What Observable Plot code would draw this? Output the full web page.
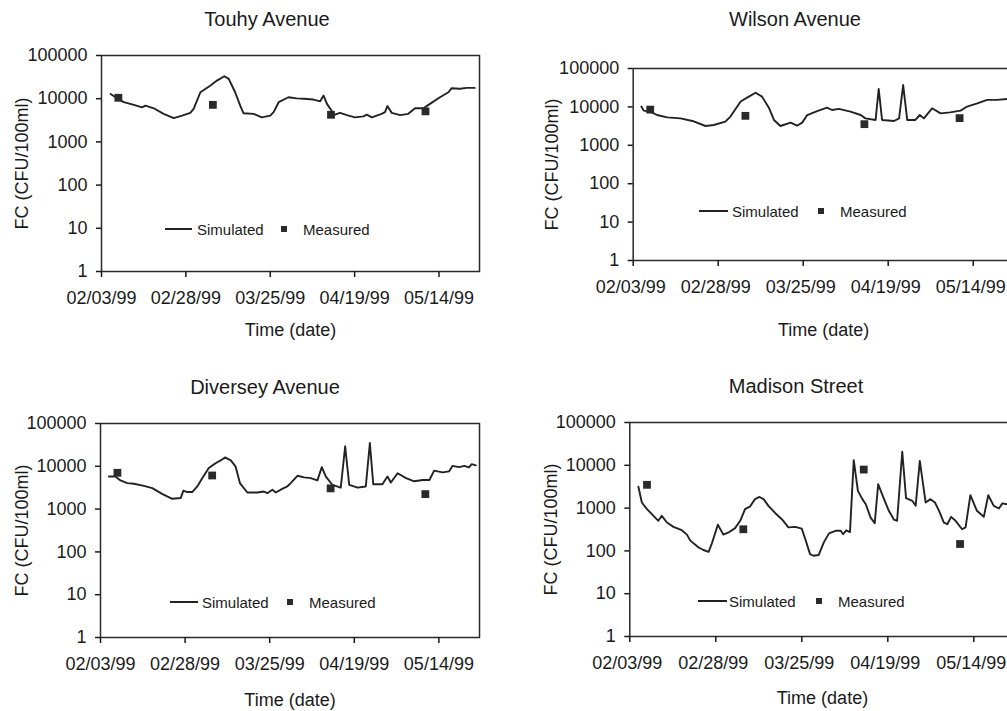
<!DOCTYPE html>
<html><head><meta charset="utf-8">
<script src="https://cdn.jsdelivr.net/npm/d3@7"></script>
<script src="https://cdn.jsdelivr.net/npm/@observablehq/plot@0.6"></script>
<style>
html,body{margin:0;padding:0;background:#fff;overflow:hidden;}
#root{position:relative;width:1007px;height:711px;overflow:hidden;font-family:"Liberation Sans",Arial,sans-serif;color:#1a1a1a;background:#fff;}
.panel{position:absolute;}
.panel svg{max-width:none !important;}
.title{position:absolute;font-size:20px;transform:translate(-50%,-50%);white-space:nowrap;line-height:1;}
.lg-line{position:absolute;height:1.5px;background:#222;}
.lg-text{position:absolute;font-size:15px;transform:translateY(-50%);white-space:nowrap;line-height:1;}
.lg-sq{position:absolute;width:6px;height:6px;background:#2a2a2a;transform:translate(-50%,-50%);}
</style></head>
<body><div id="root"></div>
<script>
// ---------- data ----------
const startDate = "1999-02-03";               // day 0 of the simulated series
const xDomain = ["1999-02-03", "1999-05-26"];
const xTickDates = ["1999-02-03", "1999-02-28", "1999-03-25", "1999-04-19", "1999-05-14"];
const yTickValues = [1, 10, 100, 1000, 10000, 100000];
const measuredDates = ["1999-02-08", "1999-03-08", "1999-04-12", "1999-05-10"];

const touhyDays = [2.7,4.6,6.6,9.6,12,13,15.5,18.4,21.4,23.9,26.3,27.3,29.3,32.2,34.2,36.4,37.7,39.6,41.1,42.1,45.1,47.5,50,51,52.5,55.4,57.9,59.9,62.8,64.8,65.8,66.8,68.2,68.7,70.7,72.7,75.1,77.6,78.6,80.1,83,84,84.7,86,88.5,90.9,92.9,95.4,97.3,100.3,102.8,103.7,106.2,108.2,110.6];
const touhySim = [12900,10200,8300,7200,6300,6900,6000,4460,3550,4070,4700,5800,14100,20000,26300,33100,28800,14100,6900,4600,4450,3700,4070,4900,8300,10800,10200,10000,9550,8700,11800,7600,5250,4170,4700,4170,3700,3900,4270,3700,4460,4900,6760,4700,4170,4460,6000,6000,7600,10800,14100,17400,17000,17800,17800];
const touhyMeasured = [10500, 7200, 4250, 5100];

const wilsonDays = [2.4,3.1,5.1,7,10,13.9,17.4,21.3,23.7,27.1,28.6,31.6,34,36,37.9,39.9,41.4,43.3,46.3,48.2,49.7,51.2,54.1,57,58.5,60.5,63.9,66.9,68.3,71.3,72.2,73.2,76.7,78.2,79.4,80.6,83,84.3,85.5,87.9,90.4,93.2,96.3,98.2,101.2,104.1,107,110];
const wilsonSim = [10200,8000,7550,6150,5350,5030,4300,3180,3380,4150,5600,13800,18500,23400,18500,9550,4570,3180,3890,3240,3890,6150,7800,9550,8300,8900,7550,6150,5030,4570,29300,4570,4300,5030,37100,4570,4570,6150,5030,9200,6800,7200,8000,10200,12300,15200,15200,16100];
const wilsonMeasured = [8500, 5850, 3550, 5100];

const diverseyDays = [2.5,4.4,5.9,7.9,9.9,12.8,15.3,18.2,21.2,23.7,24.5,25.6,27.1,28.6,30.1,32,34,35.5,36.8,38.5,39.9,41.2,43.4,46.4,48.3,49.3,50.8,51.8,53.7,55.2,56.2,58.2,60.2,62.1,64.1,65.4,66.6,68.5,71,72.3,73.5,76,78.4,79.6,80.6,83.3,84.8,85.8,87.8,90.3,92.7,95.2,97.2,98.6,101.1,103,104,106,107.5,108.9,109.7,110.9];
const diverseySim = [5760,5760,4680,4050,3900,3480,3090,2270,1740,1810,2700,2500,2500,3380,5300,9100,11800,13700,16100,13700,10000,4050,2440,2440,2580,2350,2820,2440,2970,3380,4050,6000,5500,5300,4680,9550,5760,3700,3170,29300,3700,3170,3380,35000,3800,3800,5760,4170,6900,5300,4460,4800,4800,7900,7200,7600,10200,9550,10200,9400,11200,10500];
const diverseyMeasured = [7050, 6100, 3050, 2240];

const madisonDays = [2.5,3.5,5,6.9,8.3,9.3,10.8,12.7,15.1,16.6,17.6,20,21.4,22.9,23.8,25.6,27.2,28.7,30.6,32.1,33.5,35,36.4,37.7,38.9,40.3,42.3,44.2,46.1,48.1,50,51,52.4,53.4,54.9,56.4,57.9,59.8,61.3,62,62.9,64,65.1,66.3,67.6,68.6,70,71.2,72.2,73.9,75.3,76.8,77.7,79.2,80.3,82.1,83.1,84.3,86,87.4,88.7,89.8,91.3,92.3,93.4,94.7,96.6,97.6,99,100.9,102.9,104.2,105.8,107.3,108.3,109.7];
const madisonSim = [3150,1350,950,660,505,660,460,365,305,240,174,120,105,95,145,410,240,270,340,505,950,1100,1620,1820,1620,1130,760,550,355,365,330,190,84,77,80,158,257,295,295,245,303,276,13200,2520,1620,1230,600,445,3620,1620,865,535,505,20700,1700,1480,1140,12700,1350,1620,1350,895,460,420,625,505,320,355,2000,865,625,2000,1130,980,1290,1230];
const madisonMeasured = [3500, 320, 7950, 145];

const titles = ["Touhy Avenue", "Wilson Avenue", "Diversey Avenue", "Madison Street"];
const yLabel = "FC (CFU/100ml)";
const xLabel = "Time (date)";
const legendLabels = ["Simulated", "Measured"];

// ---------- layout ----------
const root = document.getElementById("root");
const t0 = new Date(startDate + "T00:00:00Z").getTime();
const toDate = s => new Date(s + "T00:00:00Z");
const ink = "#1a1a1a";

const panels = [
  {title: titles[0], days: touhyDays, sim: touhySim, meas: touhyMeasured,
   left: 0, top: 0, w: 500, h: 350, m: [55, 21, 79, 101], titleXY: [267, 19], xLabDy: 59, yLabDx: -79, tickDx: 0,
   lg: {y: 229, l1: 165, l2: 192, t1: 197, sq: 284, t2: 303}},
  {title: titles[1], days: wilsonDays, sim: wilsonSim, meas: wilsonMeasured,
   left: 500, top: 0, w: 520, h: 350, m: [68, 6.5, 90, 132.7], titleXY: [795, 19], xLabDy: 70, yLabDx: -81, tickDx: -2.5,
   lg: {y: 211, l1: 699, l2: 728, t1: 732, sq: 821, t2: 840}},
  {title: titles[2], days: diverseyDays, sim: diverseySim, meas: diverseyMeasured,
   left: 0, top: 365, w: 500, h: 346, m: [58, 21, 74, 100], titleXY: [265, 387], xLabDy: 63, yLabDx: -78, tickDx: 0,
   lg: {y: 602, l1: 170, l2: 198, t1: 202, sq: 290, t2: 309}},
  {title: titles[3], days: madisonDays, sim: madisonSim, meas: madisonMeasured,
   left: 500, top: 365, w: 520, h: 346, m: [57, 5.4, 75, 129.3], titleXY: [796, 386], xLabDy: 62, yLabDx: -79, tickDx: -2.5,
   lg: {y: 601, l1: 698, l2: 727, t1: 729, sq: 819, t2: 838}}
];

function addDiv(cls, css, text) {
  const d = document.createElement("div");
  d.className = cls;
  Object.assign(d.style, css);
  if (text != null) d.textContent = text;
  root.appendChild(d);
  return d;
}

for (const p of panels) {
  const sim = p.days.map((d, i) => ({date: new Date(t0 + d * 864e5), fc: p.sim[i]}));
  const meas = measuredDates.map((d, i) => ({date: toDate(d), fc: p.meas[i]}));
  const chart = Plot.plot({
    width: p.w, height: p.h,
    marginTop: p.m[0], marginRight: p.m[1], marginBottom: p.m[2], marginLeft: p.m[3],
    x: {type: "utc", domain: xDomain.map(toDate)},
    y: {type: "log", domain: [1, 100000]},
    style: {fontFamily: '"Liberation Sans", Arial, sans-serif', fontSize: "18px", color: ink, background: "transparent", overflow: "visible", maxWidth: "none"},
    marks: [
      Plot.frame({stroke: "#2a2a2a", strokeWidth: 1.5}),
      Plot.axisY(yTickValues, {tickFormat: d3.format("d"), tickSize: 5, tickPadding: 9, fontSize: 18, strokeWidth: 1.5, label: null}),
      Plot.axisX(xTickDates.map(toDate), {text: null, tickSize: 6, strokeWidth: 1.5, label: null}),
      Plot.axisX(xTickDates.map(toDate), {tickSize: 0, tick: null, tickFormat: d3.utcFormat("%m/%d/%y"), tickPadding: 20, dx: p.tickDx, fontSize: 18, label: null}),
      Plot.line(sim, {x: "date", y: "fc", stroke: "#222", strokeWidth: 1.9}),
      Plot.dot(meas, {x: "date", y: "fc", symbol: "square", r: 4.4, fill: "#2a2a2a", stroke: "none"}),
      Plot.text([xLabel], {text: d => d, frameAnchor: "bottom", dy: p.xLabDy, fontSize: 18, lineAnchor: "middle", fill: ink}),
      Plot.text([yLabel], {text: d => d, frameAnchor: "left", dx: p.yLabDx, rotate: -90, fontSize: 18, textAnchor: "middle", lineAnchor: "middle", fill: ink})
    ]
  });
  const holder = addDiv("panel", {left: p.left + "px", top: p.top + "px", width: p.w + "px", height: p.h + "px"});
  holder.appendChild(chart);

  addDiv("title", {left: p.titleXY[0] + "px", top: p.titleXY[1] + "px"}, p.title);

  const g = p.lg;
  addDiv("lg-line", {left: g.l1 + "px", top: (g.y - 0.75) + "px", width: (g.l2 - g.l1) + "px"});
  addDiv("lg-text", {left: g.t1 + "px", top: g.y + "px"}, legendLabels[0]);
  addDiv("lg-sq", {left: g.sq + "px", top: g.y + "px"});
  addDiv("lg-text", {left: g.t2 + "px", top: g.y + "px"}, legendLabels[1]);
}
</script>
</body></html>
